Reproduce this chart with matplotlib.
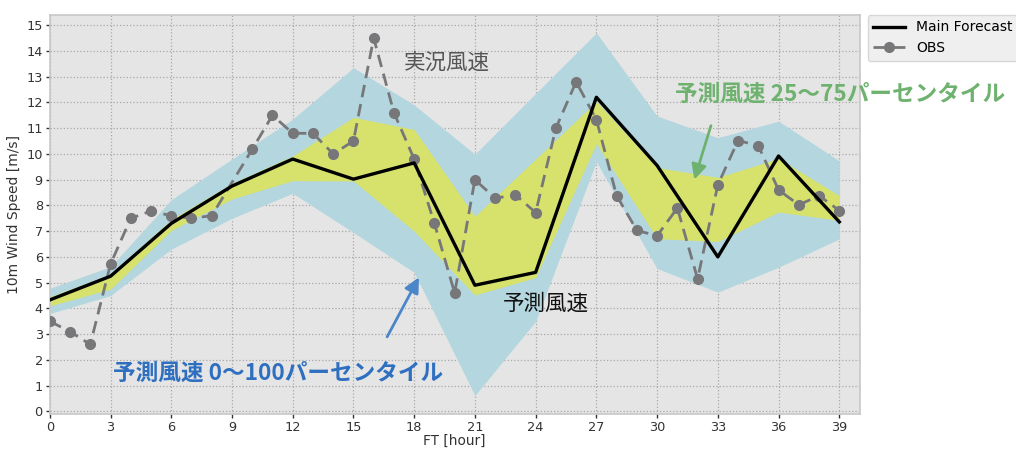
import matplotlib
matplotlib.use("Agg")
import matplotlib.pyplot as plt

# ---- data ----
fc_hours = [0, 3, 6, 9, 12, 15, 18, 21, 24, 27, 30, 33, 36, 39]
main_forecast = [4.33, 5.25, 7.3, 8.75, 9.8, 9.02, 9.65, 4.9, 5.4, 12.2, 9.55, 6.0, 9.92, 7.36]
p0 = [3.8, 4.5, 6.3, 7.5, 8.47, 6.95, 5.4, 0.62, 3.5, 9.7, 5.55, 4.63, 5.6, 6.7]
p100 = [4.78, 5.62, 8.22, 9.8, 11.35, 13.35, 11.9, 9.99, 12.35, 14.7, 11.47, 10.63, 11.27, 9.73]
p25 = [4.1, 4.75, 7.03, 8.25, 8.96, 8.95, 7.0, 4.52, 5.2, 10.4, 6.71, 6.6, 7.74, 7.42]
p75 = [4.45, 5.32, 7.45, 8.85, 9.92, 11.42, 10.95, 7.58, 9.8, 12.04, 9.47, 9.09, 9.82, 8.38]

obs_hours = [0, 1, 2, 3, 4, 5, 6, 7, 8, 10, 11, 12, 13, 14, 15, 16, 17, 18, 19,
             20, 21, 22, 23, 24, 25, 26, 27, 28, 29, 30, 31, 32, 33, 34, 35, 36,
             37, 38, 39]
obs = [3.5, 3.1, 2.6, 5.72, 7.5, 7.78, 7.6, 7.5, 7.6, 10.18, 11.5, 10.8, 10.8,
       10.0, 10.5, 14.5, 11.6, 9.8, 7.3, 4.6, 9.0, 8.28, 8.41, 7.72, 11.0, 12.8,
       11.33, 8.38, 7.03, 6.82, 7.9, 5.15, 8.8, 10.52, 10.32, 8.6, 8.02, 8.38, 7.8]

xticks = list(range(0, 40, 3))
yticks = list(range(0, 16))

JP = ["Noto Sans CJK JP", "DejaVu Sans"]

fig = plt.figure(figsize=(10.16, 4.5), dpi=100)
ax = fig.add_axes([0.049, 0.08, 0.797, 0.887])
ax.set_facecolor("#e5e5e5")

ax.fill_between(fc_hours, p0, p100, color="#b3d6df", lw=0, zorder=1)
ax.fill_between(fc_hours, p25, p75, color="#d6e26c", lw=0, zorder=2)
ax.plot(fc_hours, main_forecast, color="black", lw=2.4, zorder=4, label="Main Forecast")
ax.plot(obs_hours, obs, color="#77777a", lw=2.0, ls=(0, (4.5, 2.5)), marker="o",
        markersize=7, zorder=3, label="OBS")

ax.set_xlim(0, 40)
ax.set_ylim(-0.1, 15.4)
ax.set_xticks(xticks)
ax.set_yticks(yticks)
ax.grid(True, color="#a8a8a8", ls=":", lw=0.9)
ax.set_axisbelow(True)
for s in ax.spines.values():
    s.set_color("#c8c8c8")
    s.set_linewidth(1.2)
ax.tick_params(axis="both", colors="#333333", labelsize=9.3, length=3, width=1,
               direction="out", pad=2)
ax.tick_params(axis="both", labelcolor="#333333")
ax.set_xlabel("FT [hour]", fontsize=9.8, color="#333333")
ax.xaxis.set_label_coords(0.5, -0.05)
ax.set_ylabel("10m Wind Speed [m/s]", fontsize=10, color="#333333", labelpad=4)

leg = ax.legend(loc="upper left", bbox_to_anchor=(1.01, 1.0), fontsize=10,
                frameon=True, facecolor="#ebebeb", edgecolor="#d0d0d0",
                handlelength=2.3, borderaxespad=0.0)

ax.text(19.6, 13.55, "実況風速", family=JP, fontsize=15.5, color="#555555",
        ha="center", va="center", zorder=6)
ax.text(24.5, 4.2, "予測風速", family=JP, fontsize=15.5, color="#111111",
        ha="center", va="center", zorder=6)
ax.text(3.1, 1.5, "予測風速 0〜100パーセンタイル", family=JP, fontsize=16.3,
        fontweight="bold", color="#2f6fc0", ha="left", va="center", zorder=6)
ax.text(30.9, 12.3, "予測風速 25〜75パーセンタイル", family=JP, fontsize=16.3,
        fontweight="bold", color="#6fb26f", ha="left", va="center", zorder=6,
        clip_on=False)

ax.annotate("", xy=(18.3, 5.3), xytext=(16.6, 2.8),
            arrowprops=dict(arrowstyle="-|>,head_length=0.9,head_width=0.45",
                            color="#4a86c8", lw=2), zorder=6)
ax.annotate("", xy=(31.8, 8.9), xytext=(32.7, 11.2),
            arrowprops=dict(arrowstyle="-|>,head_length=0.9,head_width=0.45",
                            color="#6fb26f", lw=2), zorder=6)

fig.savefig("out.png", dpi=100, facecolor="white")
